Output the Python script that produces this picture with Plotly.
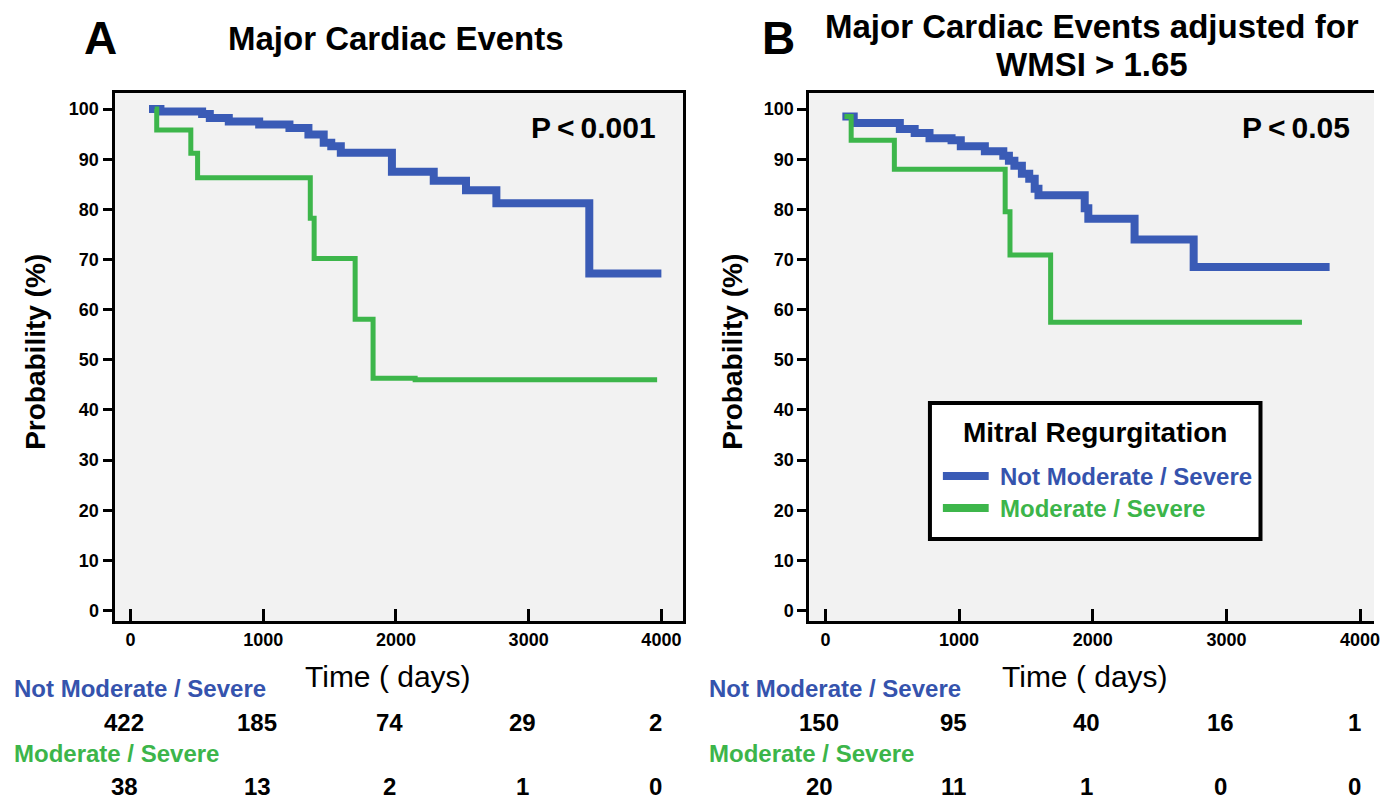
import plotly.graph_objects as go

# ---------------- data ----------------
# Panel A: Major Cardiac Events
a_not_days = [140, 226, 540, 598, 741, 970, 1198, 1341, 1456, 1513, 1585, 1970, 2285, 2528, 2757, 3457, 4000]
a_not_prob = [100, 99.5, 99.0, 98.2, 97.5, 96.9, 96.2, 94.9, 93.3, 92.6, 91.3, 87.5, 85.7, 83.8, 81.2, 67.2, 67.2]
a_mod_days = [183, 198, 455, 506, 1355, 1384, 1693, 1828, 2145, 3968]
a_mod_prob = [100, 95.8, 91.2, 86.3, 78.2, 70.2, 58.1, 46.3, 46.0, 46.0]

# Panel B: Major Cardiac Events adjusted for WMSI > 1.65
b_not_days = [127, 212, 557, 668, 779, 944, 1013, 1193, 1331, 1373, 1414, 1470, 1525, 1566, 1594, 1940, 1967, 2313, 2755, 3772]
b_not_prob = [98.5, 97.2, 96.0, 95.2, 94.2, 93.8, 92.6, 91.6, 90.7, 89.7, 88.7, 87.1, 86.1, 84.1, 82.8, 80.2, 78.1, 74.0, 68.5, 68.5]
b_mod_days = [143, 193, 516, 1345, 1381, 1685, 3565]
b_mod_prob = [98.5, 93.8, 88.0, 79.5, 70.9, 57.5, 57.5]

# Numbers at risk
risk_times = [0, 1000, 2000, 3000, 4000]
a_risk_not = [422, 185, 74, 29, 2]
a_risk_mod = [38, 13, 2, 1, 0]
b_risk_not = [150, 95, 40, 16, 1]
b_risk_mod = [20, 11, 1, 0, 0]

x_ticks = [0, 1000, 2000, 3000, 4000]
y_ticks = list(range(0, 101, 10))

group_not = "Not Moderate / Severe"
group_mod = "Moderate / Severe"
legend_title = "Mitral Regurgitation"

# ---------------- styles ----------------
W, H = 1380, 799
BLUE = "#3A5BB6"
BLUE_TXT = "#3553AD"
GREEN = "#3DB64B"
GREEN_TXT = "#3CB54A"
FONT = "Liberation Sans, Arial, sans-serif"


def px(x):
    return x / W


def py(y):
    return 1 - y / H


fig = go.Figure()

fig.add_trace(go.Scatter(x=a_not_days, y=a_not_prob, mode="lines", line=dict(color=BLUE, width=8, shape="hv"),
                         xaxis="x", yaxis="y", showlegend=False, name=group_not))
fig.add_trace(go.Scatter(x=a_mod_days, y=a_mod_prob, mode="lines", line=dict(color=GREEN, width=5, shape="hv"),
                         xaxis="x", yaxis="y", showlegend=False, name=group_mod))
fig.add_trace(go.Scatter(x=b_not_days, y=b_not_prob, mode="lines", line=dict(color=BLUE, width=8, shape="hv"),
                         xaxis="x2", yaxis="y2", showlegend=False, name=group_not))
fig.add_trace(go.Scatter(x=b_mod_days, y=b_mod_prob, mode="lines", line=dict(color=GREEN, width=5, shape="hv"),
                         xaxis="x2", yaxis="y2", showlegend=False, name=group_mod))

tickfont = dict(family=FONT, size=18, color="black", weight="bold")
xcommon = dict(tickvals=x_ticks, ticks="inside", ticklen=12, tickwidth=3, tickcolor="black",
               showline=True, linewidth=3, linecolor="black", showgrid=False, zeroline=False,
               tickfont=tickfont, ticklabeloverflow="allow")
ycommon = dict(tickvals=y_ticks, ticks="outside", ticklen=9, tickwidth=3, tickcolor="black",
               showline=True, linewidth=3, linecolor="black", showgrid=False, zeroline=False,
               tickfont=tickfont, range=[-2.1, 103.2])

ydom = [py(621), py(93)]
fig.update_layout(
    width=W, height=H, margin=dict(l=0, r=0, t=0, b=0),
    paper_bgcolor="white", plot_bgcolor="#F2F2F2",
    font=dict(family=FONT, color="black"),
    showlegend=False,
    xaxis=dict(domain=[px(115), px(686)], range=[-120, 4163], mirror=True, anchor="y", **xcommon),
    yaxis=dict(domain=ydom, mirror=True, anchor="x", **ycommon),
    xaxis2=dict(domain=[px(813), 1.0], range=[-119, 4104], mirror=True, anchor="y2", **xcommon),
    yaxis2=dict(domain=ydom, mirror=False, anchor="x2", **ycommon),
)

ann = []


def text(x, y, s, size, bold=True, color="black", xanchor="center", xref="paper", angle=0, xshift=0):
    ann.append(dict(x=x, y=y, xref=xref, yref="paper", text=s, showarrow=False, xanchor=xanchor,
                    yanchor="middle", textangle=angle, xshift=xshift,
                    font=dict(family=FONT, size=size, color=color, weight="bold" if bold else "normal")))


# panel letters and titles
text(px(101), py(38), "A", 46)
text(px(398), py(38), "Major Cardiac Events", 33)
text(px(782), py(38), "B", 46)
text(px(1097), py(27), "Major Cardiac Events adjusted for", 33)
text(px(1097), py(64), "WMSI > 1.65", 33)

# p-values
text(px(661), py(127), "P\u2009<\u20090.001", 30, xanchor="right")
text(px(1358), py(127), "P\u2009<\u20090.05", 30, xanchor="right")

# axis titles
for xc in (390, 1090):
    text(px(xc), py(676), "Time ( days)", 30, bold=False)
for xc in (35, 735):
    text(px(xc), py(352), "Probability (%)", 28, angle=-90)

# numbers at risk
for xleft, xr, not_vals, mod_vals in ((12, "x", a_risk_not, a_risk_mod), (710, "x2", b_risk_not, b_risk_mod)):
    text(px(xleft), py(688), group_not, 24, color=BLUE_TXT, xanchor="left")
    text(px(xleft), py(753), group_mod, 24, color=GREEN_TXT, xanchor="left")
    for t, v in zip(risk_times, not_vals):
        text(t, py(722), str(v), 24, xref=xr, xshift=-6)
    for t, v in zip(risk_times, mod_vals):
        text(t, py(786), str(v), 24, xref=xr, xshift=-6)

# legend box (panel B)
shapes = [
    dict(type="rect", xref="paper", yref="paper", x0=px(934), x1=px(1266), y0=py(539), y1=py(403),
         fillcolor="white", line=dict(color="black", width=4), layer="above"),
    dict(type="line", xref="paper", yref="paper", x0=px(947), x1=px(993), y0=py(476), y1=py(476),
         line=dict(color=BLUE, width=8), layer="above"),
    dict(type="line", xref="paper", yref="paper", x0=px(947), x1=px(993), y0=py(508), y1=py(508),
         line=dict(color=GREEN, width=8), layer="above"),
]
text(px(1100), py(432), legend_title, 28)
text(px(1002), py(476), group_not, 24, color=BLUE_TXT, xanchor="left")
text(px(1002), py(508), group_mod, 24, color=GREEN_TXT, xanchor="left")

fig.update_layout(annotations=ann, shapes=shapes)

# remove the default page margin so the figure fills the window exactly
fig.write_html("out.html",
               config={"displayModeBar": False, "staticPlot": True},
               post_script="document.body.style.margin='0';document.body.style.overflow='hidden';")
